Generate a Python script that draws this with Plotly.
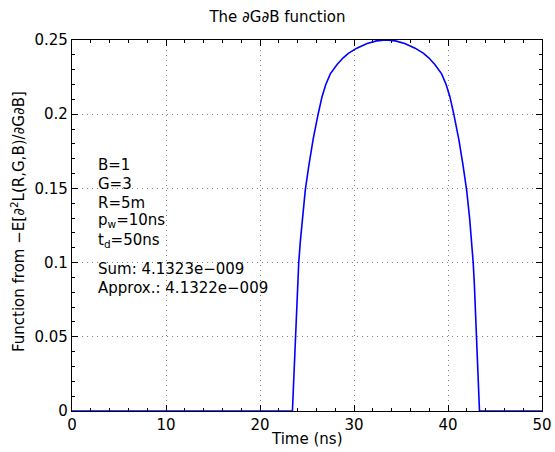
import plotly.graph_objects as go

# Values
time_ns = [0, 23.45, 23.53, 23.65, 23.78, 23.90, 24.00, 24.12, 24.30, 24.50, 24.82,
           25.20, 25.65, 26.20, 26.60, 27.00, 27.48, 28.20, 28.85, 29.40, 30.30,
           31.40, 32.40, 33.40, 34.40, 35.40, 36.50, 37.40, 37.95, 38.60, 39.32,
           39.80, 40.20, 40.60, 41.15, 41.60, 41.98, 42.30, 42.50, 42.68, 42.80,
           42.90, 43.02, 43.15, 43.27, 43.35, 50]
func_val = [0, 0, 0.012, 0.030, 0.050, 0.072, 0.086, 0.100, 0.115, 0.130, 0.149,
            0.1655, 0.1830, 0.2005, 0.2118, 0.2200, 0.2272, 0.2335, 0.2380, 0.2410, 0.2445,
            0.2477, 0.2494, 0.2500, 0.2494, 0.2477, 0.2445, 0.2410, 0.2380, 0.2335, 0.2272,
            0.2200, 0.2118, 0.2005, 0.1830, 0.1655, 0.149, 0.130, 0.115, 0.100, 0.086,
            0.072, 0.050, 0.030, 0.012, 0, 0]

x_ticks = [0, 10, 20, 30, 40, 50]
y_ticks = [0, 0.05, 0.1, 0.15, 0.2, 0.25]
y_tick_text = ["0", "0.05", "0.1", "0.15", "0.2", "0.25"]

info_lines = ["B=1", "G=3", "R=5m", "p<sub>w</sub>=10ns", "t<sub>d</sub>=50ns",
              "Sum: 4.1323e\u2212009", "Approx.: 4.1322e\u2212009"]
info_px = [165, 184, 203, 220, 240, 269, 288]  # vertical centres in the picture

FONT = "DejaVu Sans, Liberation Sans, sans-serif"
W, H = 555, 452
L, R, T, B = 72, 13, 40, 41
PLOT_TOP, PLOT_BOT = T, H - B
PW, PH = W - L - R, PLOT_BOT - PLOT_TOP

fig = go.Figure()
fig.add_trace(go.Scatter(x=time_ns, y=func_val, mode="lines",
                         line=dict(color="#0000ff", width=1.6), hoverinfo="skip"))

axis_common = dict(showline=True, linecolor="black", linewidth=1.2, mirror="allticks",
                   ticks="inside", ticklen=6, tickwidth=1, tickcolor="black",
                   showgrid=True, gridcolor="#808080", griddash="1px,4px", gridwidth=1,
                   zeroline=False, layer="below traces", automargin=False,
                   tickfont=dict(family=FONT, size=15, color="black"))

fig.update_xaxes(range=[0, 50], tickvals=x_ticks,
                 minor=dict(ticks="inside", dtick=2, ticklen=3, tickcolor="black", showgrid=False),
                 **axis_common)
fig.update_yaxes(range=[0, 0.25], tickvals=y_ticks, ticktext=y_tick_text,
                 minor=dict(ticks="inside", dtick=0.01, ticklen=3, tickcolor="black", showgrid=False),
                 **axis_common)

# axis titles placed at the reference positions
fig.add_annotation(text="Time (ns)", x=0.5, y=(PLOT_BOT - 439) / PH,
                   xref="paper", yref="paper", showarrow=False,
                   xanchor="center", yanchor="middle",
                   font=dict(family=FONT, size=15, color="black"))
fig.add_annotation(text="Function from \u2212E[\u2202<sup>2</sup>L(R,G,B)/\u2202G\u2202B]",
                   x=(18 - L) / PW, y=(PLOT_BOT - 222) / PH, textangle=-90,
                   xref="paper", yref="paper", showarrow=False,
                   xanchor="center", yanchor="middle",
                   font=dict(family=FONT, size=15, color="black"))

for txt, ypx in zip(info_lines, info_px):
    fig.add_annotation(text=txt, x=(96 - L) / PW,
                       y=(PLOT_BOT - ypx) / PH,
                       xref="paper", yref="paper",
                       showarrow=False, xanchor="left", yanchor="middle",
                       font=dict(family=FONT, size=15, color="black"))

fig.update_layout(
    width=W, height=H, margin=dict(l=L, r=R, t=T, b=B, autoexpand=False),
    paper_bgcolor="white", plot_bgcolor="white", showlegend=False,
    title=dict(text="The \u2202G\u2202B function", x=0.5, xanchor="center",
               y=1 - 17 / H, yanchor="middle", font=dict(family=FONT, size=15, color="black")),
)

fig.write_html("out.html")
